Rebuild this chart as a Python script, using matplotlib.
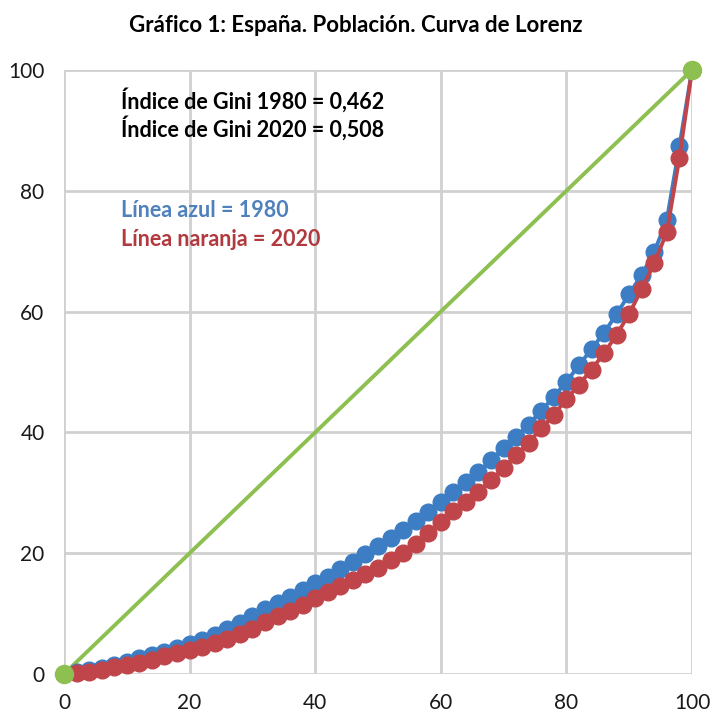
import matplotlib
matplotlib.use("Agg")
import matplotlib.pyplot as plt

# Data
pop_share = [0, 2, 4, 6, 8, 10, 12, 14, 16, 18, 20, 22, 24, 26, 28, 30, 32, 34, 36, 38,
             40, 42, 44, 46, 48, 50, 52, 54, 56, 58, 60, 62, 64, 66, 68, 70, 72, 74, 76, 78,
             80, 82, 84, 86, 88, 90, 92, 94, 96, 98, 100]
lorenz_1980 = [0, 0.3, 0.6, 1.0, 1.5, 2.0, 2.6, 3.1, 3.7, 4.3, 5.0, 5.7, 6.5, 7.4, 8.4, 9.6,
               10.8, 11.7, 12.8, 13.9, 15.0, 16.1, 17.4, 18.6, 19.9, 21.2, 22.5, 23.9, 25.3,
               26.8, 28.4, 30.1, 31.8, 33.5, 35.4, 37.4, 39.3, 41.3, 43.6, 45.9, 48.4, 51.1,
               53.8, 56.5, 59.6, 62.9, 66.1, 69.9, 75.2, 87.4, 100]
lorenz_2020 = [0, 0.2, 0.4, 0.7, 1.1, 1.5, 1.9, 2.4, 2.9, 3.4, 3.9, 4.5, 5.1, 5.8, 6.6, 7.5,
               8.6, 9.6, 10.5, 11.5, 12.6, 13.6, 14.6, 15.5, 16.5, 17.6, 18.8, 20.1, 21.6,
               23.3, 25.2, 27.0, 28.5, 30.2, 32.1, 34.1, 36.3, 38.3, 40.7, 42.9, 45.5, 47.9,
               50.4, 53.1, 56.2, 59.6, 63.8, 68.0, 73.2, 85.5, 100]
equality_x = [0, 100]
equality_y = [0, 100]
ticks = [0, 20, 40, 60, 80, 100]

title = "Gráfico 1: España. Población. Curva de Lorenz"
gini_lines = ["Índice de Gini 1980 = 0,462", "Índice de Gini 2020 = 0,508"]
legend_blue = "Línea azul = 1980"
legend_red = "Línea naranja = 2020"

plt.rcParams['font.family'] = ['Lato', 'DejaVu Sans']

fig = plt.figure(figsize=(7.12, 7.16), dpi=100)
ax = fig.add_axes([64/712, 1-674/716, 628/712, 604/716])

blue = "#3C7DC4"
red = "#C0454A"
green = "#8DC051"

ax.plot(equality_x, equality_y, color=green, lw=2.8, zorder=3, clip_on=False)
ax.plot(pop_share, lorenz_1980, color=blue, lw=2.8, marker='o', ms=12, zorder=4, clip_on=False)
ax.plot(pop_share, lorenz_2020, color=red, lw=2.8, marker='o', ms=12, zorder=5, clip_on=False)
ax.plot(equality_x, equality_y, color=green, lw=0, marker='o', ms=13, zorder=6, clip_on=False)

ax.set_xlim(0, 100)
ax.set_ylim(0, 100)
ax.set_xticks(ticks)
ax.set_yticks(ticks)
ax.grid(True, color="#D0D0D0", lw=2)
ax.set_axisbelow(True)
for s in ax.spines.values():
    s.set_visible(False)
ax.tick_params(length=0, labelsize=15, colors="#1a1a1a")
ax.tick_params(axis='x', pad=14)
ax.tick_params(axis='y', pad=14)

fig.text(0.5, 1-25/716, title, ha='center', va='center', fontsize=16, fontweight='bold')

ax.text(9, 95, gini_lines[0], fontsize=15.5, fontweight='bold', color='black', va='center')
ax.text(9, 90.4, gini_lines[1], fontsize=15.5, fontweight='bold', color='black', va='center')
ax.text(9, 76.8, legend_blue, fontsize=15.5, fontweight='bold', color="#4F81BD", va='center')
ax.text(9, 72.0, legend_red, fontsize=15.5, fontweight='bold', color="#B03A3E", va='center')

fig.savefig("out.png", dpi=100, facecolor='white')
